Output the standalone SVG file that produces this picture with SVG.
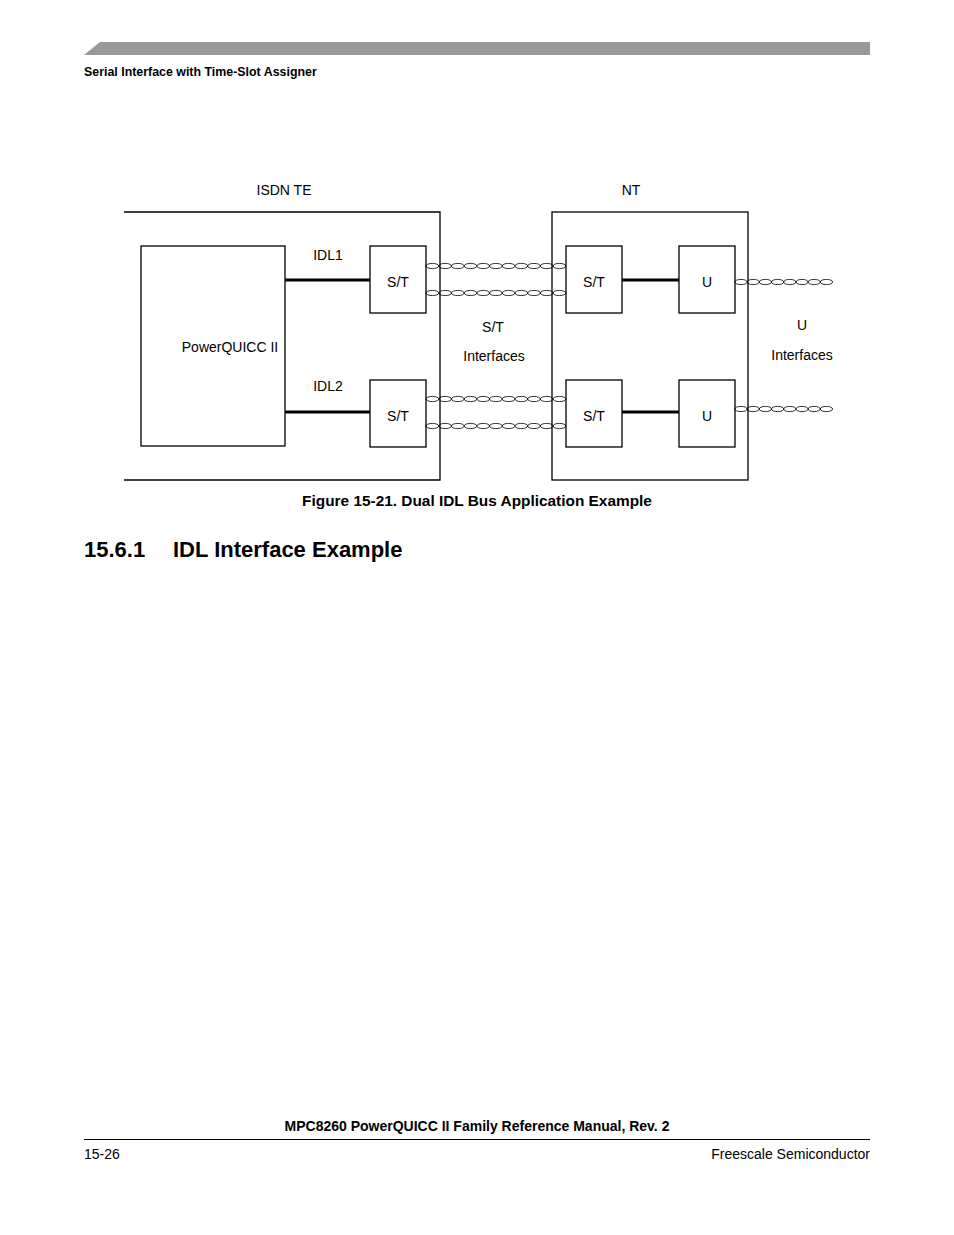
<svg xmlns="http://www.w3.org/2000/svg" xmlns:xlink="http://www.w3.org/1999/xlink" width="954" height="1235" viewBox="0 0 954 1235">
<style>
text{font-family:"Liberation Sans",Arial,sans-serif;fill:#000}
.l{font-size:14px}
.b{fill:#fff;stroke:#000;stroke-width:1.3}
.w{stroke:#000;stroke-width:3}
.e{fill:none;stroke:#000;stroke-width:0.8}
</style>
<defs>
<g id="ch11" class="e">
<ellipse cx="432.4" cy="0" rx="6.4" ry="2.6"/><ellipse cx="445.1" cy="0" rx="6.4" ry="2.6"/><ellipse cx="457.8" cy="0" rx="6.4" ry="2.6"/><ellipse cx="470.5" cy="0" rx="6.4" ry="2.6"/><ellipse cx="483.2" cy="0" rx="6.4" ry="2.6"/><ellipse cx="495.9" cy="0" rx="6.4" ry="2.6"/><ellipse cx="508.6" cy="0" rx="6.4" ry="2.6"/><ellipse cx="521.3" cy="0" rx="6.4" ry="2.6"/><ellipse cx="534" cy="0" rx="6.4" ry="2.6"/><ellipse cx="546.7" cy="0" rx="6.4" ry="2.6"/><ellipse cx="559.4" cy="0" rx="6.4" ry="2.6"/>
</g>
<g id="ch8" class="e">
<ellipse cx="741" cy="0" rx="6.2" ry="2.6"/><ellipse cx="753.2" cy="0" rx="6.2" ry="2.6"/><ellipse cx="765.4" cy="0" rx="6.2" ry="2.6"/><ellipse cx="777.6" cy="0" rx="6.2" ry="2.6"/><ellipse cx="789.8" cy="0" rx="6.2" ry="2.6"/><ellipse cx="802" cy="0" rx="6.2" ry="2.6"/><ellipse cx="814.2" cy="0" rx="6.2" ry="2.6"/><ellipse cx="826.4" cy="0" rx="6.2" ry="2.6"/>
</g>
</defs>
<rect width="954" height="1235" fill="#fff"/>
<polygon points="84,55 100,42 870,42 870,55" fill="#999"/>
<text x="84" y="76" font-size="12.4" font-weight="bold">Serial Interface with Time-Slot Assigner</text>

<g id="te"><polyline points="124,212 440,212 440,480 124,480" fill="none" stroke="#000" stroke-width="1.3"/><text class="l" x="284" y="195" text-anchor="middle">ISDN TE</text></g>
<g id="nt"><rect x="552" y="212" width="196" height="268" fill="none" stroke="#000" stroke-width="1.3"/><text class="l" x="631" y="195" text-anchor="middle">NT</text></g>
<g id="pq"><rect class="b" x="141" y="246" width="144" height="200"/><text class="l" x="230" y="352" text-anchor="middle">PowerQUICC II</text></g>
<g id="st1"><rect class="b" x="370" y="246" width="56" height="67"/><text class="l" x="398" y="287" text-anchor="middle">S/T</text></g>
<g id="st2"><rect class="b" x="370" y="380" width="56" height="67"/><text class="l" x="398" y="421" text-anchor="middle">S/T</text></g>
<g id="st3"><rect class="b" x="566" y="246" width="56" height="67"/><text class="l" x="594" y="287" text-anchor="middle">S/T</text></g>
<g id="st4"><rect class="b" x="566" y="380" width="56" height="67"/><text class="l" x="594" y="421" text-anchor="middle">S/T</text></g>
<g id="u1"><rect class="b" x="679" y="246" width="56" height="67"/><text class="l" x="707" y="287" text-anchor="middle">U</text></g>
<g id="u2"><rect class="b" x="679" y="380" width="56" height="67"/><text class="l" x="707" y="421" text-anchor="middle">U</text></g>

<g id="connectors">
<line class="w" x1="285" y1="280" x2="370" y2="280"/>
<line class="w" x1="285" y1="412" x2="370" y2="412"/>
<line class="w" x1="622" y1="280" x2="679" y2="280"/>
<line class="w" x1="622" y1="412" x2="679" y2="412"/>
<use xlink:href="#ch11" y="266"/>
<use xlink:href="#ch11" y="293"/>
<use xlink:href="#ch11" y="399"/>
<use xlink:href="#ch11" y="426"/>
<use xlink:href="#ch8" y="282"/>
<use xlink:href="#ch8" y="409"/>
<text class="l" x="328" y="260" text-anchor="middle">IDL1</text>
<text class="l" x="328" y="391" text-anchor="middle">IDL2</text>
<text class="l" x="493" y="332" text-anchor="middle">S/T</text>
<text class="l" x="494" y="361" text-anchor="middle">Interfaces</text>
<text class="l" x="802" y="330" text-anchor="middle">U</text>
<text class="l" x="802" y="360" text-anchor="middle">Interfaces</text>
</g>

<text x="477" y="506" font-size="15.4" font-weight="bold" text-anchor="middle">Figure 15-21. Dual IDL Bus Application Example</text>
<text x="84" y="557" font-size="22" font-weight="bold">15.6.1</text>
<text x="173" y="557" font-size="22" font-weight="bold">IDL Interface Example</text>
<text x="477" y="1131" font-size="14" font-weight="bold" text-anchor="middle">MPC8260 PowerQUICC II Family Reference Manual, Rev. 2</text>
<line x1="84" y1="1139.5" x2="870" y2="1139.5" stroke="#000" stroke-width="1"/>
<text x="84" y="1159" font-size="14">15-26</text>
<text x="870" y="1159" font-size="14" text-anchor="end">Freescale Semiconductor</text>
</svg>
